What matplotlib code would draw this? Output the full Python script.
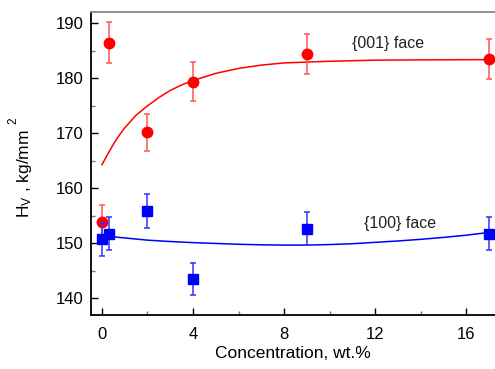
import matplotlib
matplotlib.use("Agg")
import matplotlib.pyplot as plt
from matplotlib.ticker import MultipleLocator

plt.rcParams['font.family'] = ['Liberation Sans', 'DejaVu Sans']
plt.rcParams['mathtext.fontset'] = 'custom'
plt.rcParams['mathtext.rm'] = 'Liberation Sans'
plt.rcParams['mathtext.it'] = 'Liberation Sans'

# {001} face (red)
x001 = [0, 0.3, 2, 4, 9, 17]
y001 = [153.9, 186.5, 170.2, 179.4, 184.4, 183.5]
e001 = [3.0, 3.7, 3.4, 3.6, 3.7, 3.6]
fit001_x = [0, 0.25, 0.5, 0.75, 1, 1.5, 2, 2.5, 3, 3.5, 4, 5, 6, 7, 8, 10, 12, 14, 17]
fit001_y = [164.3, 166.2, 168.0, 169.6, 171.0, 173.3, 175.0, 176.5, 177.8, 178.8,
            179.6, 180.9, 181.8, 182.4, 182.8, 183.1, 183.3, 183.35, 183.4]

# {100} face (blue)
x100 = [0, 0.3, 2, 4, 9, 17]
y100 = [150.8, 151.8, 155.9, 143.6, 152.7, 151.8]
e100 = [3.0, 3.0, 3.1, 2.9, 3.0, 3.0]
fit100_x = [0.3, 1, 2, 3, 4, 5, 6, 7, 8, 9, 10, 11, 12, 13, 14, 15, 16, 17]
fit100_y = [151.3, 151.0, 150.6, 150.35, 150.15, 150.0, 149.85, 149.75, 149.7, 149.7,
            149.8, 149.95, 150.2, 150.45, 150.75, 151.1, 151.5, 152.0]

xticks = [0, 4, 8, 12, 16]
yticks = [140, 150, 160, 170, 180, 190]

fig = plt.figure(figsize=(4.95, 3.69), dpi=100)
ax = fig.add_axes([91/495, 1 - 315/369, 409.5/495, 303/369])

red = '#ff0000'
blue = '#0000ff'

ax.plot(fit001_x, fit001_y, color=red, lw=1.1, zorder=2)
ax.plot(fit100_x, fit100_y, color=blue, lw=1.1, zorder=2)

ax.errorbar(x001, y001, yerr=e001, fmt='o', color=red, ms=7.5, ecolor='#ff5555',
            elinewidth=1.1, capsize=2.5, capthick=1.1, zorder=3)
ax.errorbar(x100, y100, yerr=e100, fmt='s', color=blue, ms=7, ecolor='#3333ff',
            elinewidth=1.1, capsize=2.5, capthick=1.1, zorder=4)

ax.text(12.57, 186.4, '{001} face', fontsize=11.5, ha='center', va='center', color='#222222')
ax.text(13.1, 153.6, '{100} face', fontsize=11.5, ha='center', va='center', color='#222222')

ax.set_xlim(-0.48, 17.5)
ax.set_ylim(137, 192.05)
ax.set_xticks(xticks)
ax.set_yticks(yticks)
ax.xaxis.set_minor_locator(MultipleLocator(2))
ax.yaxis.set_minor_locator(MultipleLocator(5))
ax.tick_params(which='major', direction='in', length=5, width=1, labelsize=12,
               color='black')
ax.tick_params(which='minor', direction='in', length=3, width=1, color='#777777')
ax.tick_params(axis='x', pad=8.5)
ax.tick_params(axis='y', pad=5.5)

for s in ['left', 'bottom']:
    ax.spines[s].set_linewidth(1.3)
    ax.spines[s].set_color('black')
ax.spines['top'].set_color('#888888')
ax.spines['top'].set_linewidth(1.3)
ax.spines['right'].set_visible(False)

fig.text(293/495, 1 - 353/369, 'Concentration, wt.%', fontsize=12.5,
         ha='center', va='center')
fig.text(25/495, 1 - 174/369, r'H$_{\rm V}$ , kg/mm', rotation=90, fontsize=12.5,
         ha='center', va='center')
fig.text(13/495, 1 - 121/369, '2', rotation=90, fontsize=8.5, ha='center', va='center')

fig.savefig('out.png', dpi=100)
